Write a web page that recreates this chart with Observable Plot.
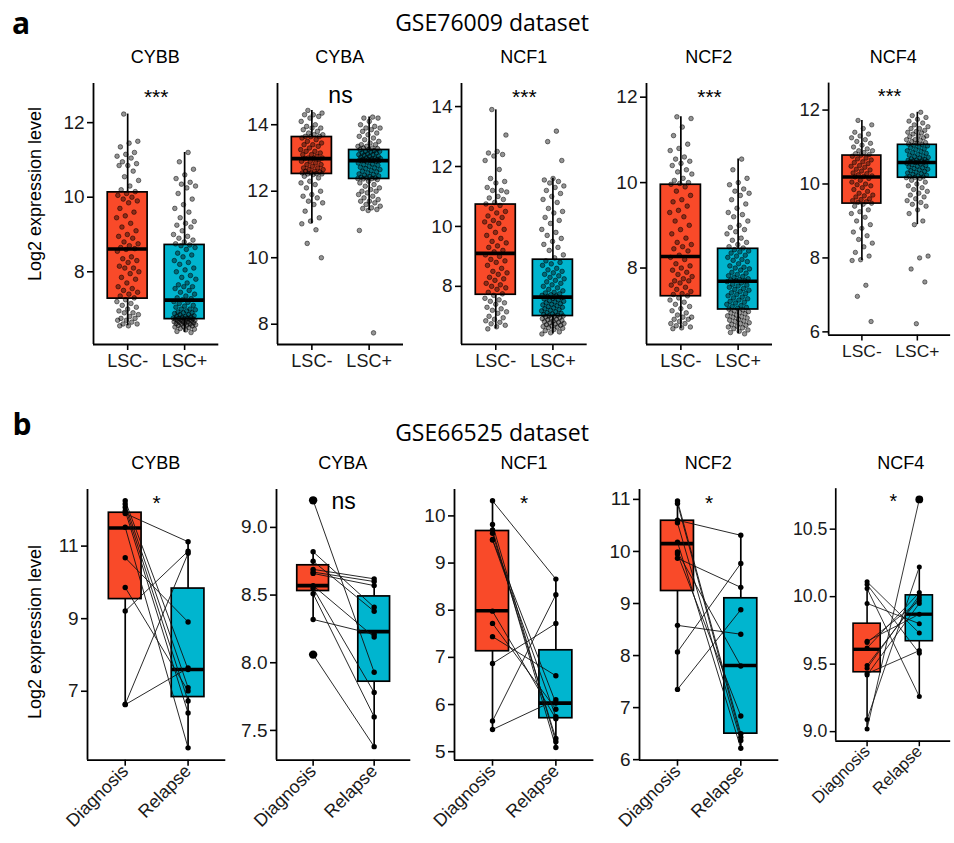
<!DOCTYPE html>
<html><head><meta charset="utf-8">
<script src="https://cdn.jsdelivr.net/npm/d3@7"></script>
<script src="https://cdn.jsdelivr.net/npm/@observablehq/plot@0.6"></script>
<style>
body{margin:0;background:#fff;}
#root{position:relative;width:954px;height:843px;overflow:hidden;font-family:"Liberation Sans",Arial,sans-serif;color:#000;}
.lbl{position:absolute;white-space:nowrap;line-height:1;transform:translate(-50%,-50%);}
.panel{position:absolute;}
</style></head><body><div id="root"></div>
<script>
// ---------------- DATA ----------------
const genes = ["CYBB","CYBA","NCF1","NCF2","NCF4"];
const groupsA = ["LSC-","LSC+"];
const groupsB = ["Diagnosis","Relapse"];
const titleA = "GSE76009 dataset";
const titleB = "GSE66525 dataset";
const sigA = ["***","ns","***","***","***"];
const sigB = ["*","ns","*","*","*"];
const yLabel = "Log2 expression level";

// row a box statistics per gene: [LSC-, LSC+], each [q1, median, q3, whiskerLow, whiskerHigh]
const statsA = [
  [[7.28, 8.61, 10.13, 6.55, 12.23], [6.73, 7.24, 8.72, 6.37, 11.2]],
  [[12.52, 12.98, 13.63, 11.02, 14.43], [12.37, 12.92, 13.24, 11.42, 14.23]],
  [[7.72, 9.1, 10.73, 6.58, 13.89], [7.01, 7.64, 8.89, 6.41, 11.61]],
  [[7.34, 8.27, 9.95, 6.58, 11.54], [7.03, 7.69, 8.45, 6.46, 10.55]],
  [[9.47, 10.19, 10.77, 7.93, 11.72], [10.17, 10.58, 11.06, 8.9, 11.94]]
];
const domainsA = [[6.05,13.05],[7.39,15.24],[6.06,14.77],[6.21,12.32],[5.91,12.73]];
const ticksA = [[8,10,12],[8,10,12,14],[8,10,12,14],[8,10,12],[6,8,10,12]];

// row a sample values
const cybbNeg = [12.23,11.5,11.45,11.35,11.2,11.15,11.1,11.05,10.95,10.9,10.85,10.85,10.7,10.55,10.45,10.3,10.2,10.15,10.1,10.05,
  10.0,9.95,9.9,9.85,9.7,9.6,9.5,9.45,9.3,9.2,9.1,9.0,8.95,8.9,8.8,8.75,8.7,8.65,8.62,8.6,
  8.55,8.4,8.35,8.3,8.25,8.15,8.1,8.1,8.0,7.95,7.85,7.8,7.7,7.6,7.55,7.5,7.45,7.4,7.35,7.3,
  7.25,7.2,7.15,7.1,7.05,7.0,6.95,6.9,6.9,6.85,6.8,6.75,6.75,6.7,6.7,6.65,6.6,6.6,6.55,6.55];
const cybbPos = [11.2,10.95,10.75,10.6,10.5,10.4,10.35,10.3,10.25,10.1,9.95,9.8,9.7,9.6,9.45,9.35,9.3,9.25,9.2,9.1,9.0,8.95,8.9,8.85,8.8,8.75,8.72,
  8.7,8.65,8.6,8.5,8.45,8.4,8.3,8.25,8.2,8.1,8.05,8.0,7.9,7.85,7.8,7.7,7.65,7.6,7.6,7.55,7.5,7.45,7.4,7.35,7.3,7.28,7.25,
  7.2,7.18,7.15,7.1,7.08,7.05,7.0,7.0,6.98,6.95,6.92,6.9,6.9,6.88,6.85,6.85,6.82,6.8,6.8,6.78,6.77,6.76,6.75,6.75,6.74,6.74,6.73,
  6.72,6.71,6.7,6.7,6.69,6.68,6.67,6.66,6.65,6.64,6.63,6.62,6.61,6.6,6.6,6.58,6.57,6.56,6.55,6.53,6.52,6.5,6.48,6.46,6.44,6.4,6.37];
const cybaNeg = [14.43,14.35,14.3,14.3,14.25,14.2,14.1,14.0,13.95,13.9,13.9,13.85,13.8,13.75,13.7,13.7,13.65,13.65,13.64,
  13.6,13.55,13.5,13.45,13.4,13.4,13.35,13.3,13.25,13.2,13.2,13.15,13.1,13.1,13.05,13.0,13.0,12.99,12.98,
  12.95,12.9,12.9,12.85,12.8,12.8,12.75,12.7,12.7,12.65,12.65,12.6,12.6,12.58,12.55,12.55,12.53,12.52,12.52,
  12.5,12.45,12.4,12.3,12.25,12.2,12.1,12.0,11.9,11.85,11.8,11.7,11.65,11.6,11.4,11.2,11.1,11.02,10.84,10.43,10.0];
const cybaPos = [14.23,14.2,14.2,14.1,14.0,13.95,13.9,13.9,13.85,13.8,13.75,13.7,13.65,13.6,13.55,13.5,13.45,13.4,13.4,13.35,13.35,13.3,13.3,13.28,13.26,13.25,
  13.22,13.2,13.2,13.18,13.15,13.15,13.12,13.1,13.1,13.08,13.05,13.05,13.02,13.0,13.0,12.98,12.97,12.96,12.95,12.95,12.94,12.93,12.93,12.92,12.92,12.92,
  12.9,12.88,12.85,12.82,12.8,12.78,12.75,12.72,12.7,12.68,12.65,12.62,12.6,12.58,12.55,12.52,12.5,12.48,12.46,12.44,12.42,12.4,12.4,12.38,12.38,12.37,
  12.35,12.3,12.25,12.2,12.15,12.1,12.05,12.0,12.0,11.95,11.9,11.85,11.8,11.75,11.7,11.7,11.65,11.6,11.55,11.5,11.48,11.45,11.42,10.82,7.74];
const ncf1Neg = [13.9,13.05,12.5,12.45,12.4,12.35,12.2,11.9,11.6,11.5,11.45,11.3,11.2,11.2,11.15,11.0,10.95,10.9,10.8,10.75,
  10.7,10.6,10.5,10.45,10.35,10.3,10.2,10.15,10.1,10.0,9.9,9.8,9.7,9.6,9.5,9.45,9.35,9.3,9.2,9.15,
  9.05,9.0,8.9,8.85,8.8,8.7,8.6,8.5,8.45,8.4,8.3,8.25,8.2,8.1,8.05,8.0,7.95,7.9,7.8,7.75,
  7.7,7.6,7.55,7.5,7.45,7.4,7.3,7.25,7.2,7.15,7.1,7.0,6.95,6.9,6.85,6.8,6.75,6.7,6.65,6.58];
const ncf1Pos = [13.18,12.83,12.2,11.6,11.55,11.5,11.45,11.35,11.3,11.2,11.1,11.0,10.9,10.8,10.6,10.5,10.45,10.3,10.2,10.1,9.9,9.8,9.7,9.6,9.5,9.4,9.3,9.2,9.05,8.95,
  8.85,8.8,8.75,8.7,8.6,8.55,8.5,8.45,8.4,8.35,8.3,8.25,8.2,8.15,8.1,8.05,8.0,7.95,7.9,7.85,7.8,7.78,7.75,7.72,7.7,7.68,7.65,
  7.62,7.6,7.58,7.55,7.52,7.5,7.48,7.45,7.42,7.4,7.38,7.35,7.32,7.3,7.28,7.25,7.22,7.2,7.18,7.15,7.12,7.1,7.08,7.06,7.04,7.02,7.01,
  7.0,6.98,6.96,6.94,6.92,6.9,6.88,6.86,6.84,6.82,6.8,6.78,6.76,6.74,6.72,6.7,6.68,6.66,6.64,6.62,6.6,6.56,6.52,6.48,6.45,6.41];
const ncf2Neg = [11.54,11.5,11.3,11.1,10.9,10.8,10.75,10.6,10.55,10.5,10.45,10.4,10.3,10.25,10.2,10.1,10.05,10.0,9.98,9.96,
  9.9,9.8,9.7,9.6,9.55,9.45,9.35,9.3,9.2,9.1,9.0,8.9,8.8,8.7,8.6,8.55,8.5,8.45,8.4,8.3,
  8.25,8.2,8.1,8.05,8.0,7.95,7.9,7.85,7.8,7.75,7.7,7.7,7.65,7.6,7.55,7.5,7.45,7.4,7.38,7.35,
  7.3,7.25,7.2,7.15,7.1,7.05,7.0,6.95,6.9,6.85,6.85,6.8,6.8,6.75,6.7,6.7,6.65,6.62,6.6,6.58];
const ncf2Pos = [10.55,10.3,10.1,10.0,9.95,9.85,9.8,9.75,9.7,9.6,9.5,9.4,9.3,9.25,9.2,9.1,9.0,8.95,8.9,8.85,8.8,8.7,8.65,8.6,8.55,8.5,8.47,
  8.43,8.4,8.38,8.35,8.3,8.28,8.25,8.2,8.18,8.15,8.1,8.05,8.02,8.0,7.98,7.95,7.9,7.88,7.85,7.82,7.8,7.78,7.75,7.73,7.72,7.7,7.7,
  7.68,7.65,7.62,7.6,7.58,7.55,7.52,7.5,7.48,7.45,7.42,7.4,7.38,7.35,7.32,7.3,7.28,7.25,7.22,7.2,7.18,7.15,7.12,7.1,7.08,7.06,7.04,
  7.02,7.0,6.98,6.96,6.95,6.93,6.9,6.88,6.86,6.85,6.83,6.8,6.78,6.76,6.75,6.72,6.7,6.68,6.66,6.64,6.62,6.6,6.58,6.55,6.52,6.49,6.46];
const ncf4Neg = [11.72,11.6,11.5,11.4,11.35,11.3,11.25,11.2,11.15,11.1,11.05,11.0,10.95,10.9,10.9,10.85,10.82,10.8,10.78,
  10.75,10.7,10.68,10.65,10.6,10.58,10.55,10.5,10.48,10.45,10.4,10.38,10.35,10.3,10.28,10.25,10.22,10.2,10.19,
  10.15,10.1,10.05,10.0,9.98,9.95,9.9,9.85,9.8,9.75,9.7,9.68,9.65,9.6,9.58,9.55,9.52,9.5,9.48,
  9.45,9.4,9.3,9.25,9.2,9.1,9.0,8.9,8.8,8.7,8.6,8.5,8.4,8.3,8.15,8.05,7.95,7.93,7.26,6.96,6.28];
const ncf4Pos = [11.94,11.85,11.8,11.75,11.7,11.65,11.6,11.55,11.5,11.5,11.45,11.42,11.4,11.38,11.35,11.3,11.3,11.28,11.25,11.2,11.2,11.18,11.15,11.12,11.1,11.08,11.07,
  11.05,11.03,11.0,10.98,10.95,10.93,10.9,10.88,10.85,10.83,10.8,10.78,10.76,10.74,10.72,10.7,10.68,10.66,10.65,10.64,10.63,10.62,10.61,10.6,10.6,10.59,10.58,
  10.56,10.54,10.52,10.5,10.48,10.46,10.44,10.42,10.4,10.38,10.36,10.34,10.32,10.3,10.28,10.26,10.24,10.22,10.2,10.19,10.18,10.17,
  10.15,10.1,10.05,10.0,9.95,9.9,9.85,9.8,9.75,9.7,9.65,9.6,9.55,9.5,9.45,9.4,9.3,9.2,9.0,8.9,8.05,8.0,7.7,7.35,6.22];
const valuesA = [[cybbNeg,cybbPos],[cybaNeg,cybaPos],[ncf1Neg,ncf1Pos],[ncf2Neg,ncf2Pos],[ncf4Neg,ncf4Pos]];

// row b: paired samples (same index = same patient)
const cybbDiag = [12.25,12.16,12.07,11.97,11.90,11.52,10.68,9.86,9.21,6.64,6.63];
const cybbRel  = [7.60,7.10,6.73,6.40,11.12,5.44,8.91,7.01,10.86,10.80,7.64];
const cybaDiag = [9.20,8.82,8.75,8.69,8.67,8.66,8.57,8.55,8.51,8.32,8.06];
const cybaRel  = [7.93,8.41,8.38,8.62,8.60,8.57,8.19,7.78,7.60,8.21,7.38];
const ncf1Diag = [10.32,9.82,9.70,9.63,9.50,9.49,7.98,7.72,7.44,6.87,5.65,5.47];
const ncf1Rel  = [8.66,5.21,5.09,5.28,6.03,5.74,5.70,5.90,6.61,7.72,8.33,6.10];
const ncf2Diag = [10.97,10.92,10.60,10.55,10.18,9.99,9.95,9.87,8.58,8.07,7.35];
const ncf2Rel  = [6.50,6.43,10.31,6.37,6.22,7.80,6.84,9.31,8.41,9.77,8.88];
const ncf4Diag = [10.11,10.09,10.06,9.95,9.67,9.66,9.62,9.49,9.47,9.43,9.42,9.09,9.02];
const ncf4Rel  = [9.73,9.58,9.26,9.80,9.87,9.97,10.03,9.99,10.01,9.60,9.95,10.22,10.72];
const valuesB = [[cybbDiag,cybbRel],[cybaDiag,cybaRel],[ncf1Diag,ncf1Rel],[ncf2Diag,ncf2Rel],[ncf4Diag,ncf4Rel]];
const statsB = [
  [[9.54, 11.5, 11.92, 6.63, 12.25], [6.84, 7.6, 9.83, 5.44, 11.12]],
  [[8.53, 8.57, 8.72, 8.32, 8.82], [7.86, 8.23, 8.49, 7.38, 8.62]],
  [[7.13, 7.99, 9.68, 5.47, 10.32], [5.71, 6.03, 7.15, 5.09, 8.66]],
  [[9.24, 10.15, 10.59, 7.35, 10.97], [6.50, 7.81, 9.10, 6.22, 10.31]],
  [[9.44, 9.61, 9.80, 9.02, 10.11], [9.67, 9.87, 10.01, 9.26, 10.22]]
];
const domainsB = [[5.1,12.56],[7.28,9.28],[4.82,10.56],[5.99,11.19],[8.93,10.80]];
const ticksB = [[7,9,11],[7.5,8.0,8.5,9.0],[5,6,7,8,9,10],[6,7,8,9,10,11],[9.0,9.5,10.0,10.5]];
const tickDecimalsB = [0,1,0,0,1];

// ---------------- LAYOUT / STYLE ----------------
const colors = ["#F94A29","#00B5CF"];
const FONT = "Liberation Sans, Arial, sans-serif";
const root = document.getElementById("root");
const layoutA = {axisX:[92.7,276.7,461,645.7,830], axisEnd:[218,402.7,586.7,771.7,956.3], top:83, bottom:344, boxHalf:0.35};
const layoutB = {axisX:[86.7,275.7,454.3,638.7,839.1], axisEnd:[225,410,593.7,778,962.3], top:489.3, bottom:760, boxHalf:0.26};

function addLabel(text, x, y, style) {
  const d = document.createElement("div");
  d.className = "lbl";
  d.textContent = text;
  d.style.left = x + "px"; d.style.top = y + "px";
  Object.assign(d.style, style || {});
  root.appendChild(d);
  return d;
}

function jitter(i) { return (((i * 0.6180339887) % 1) - 0.5) * 0.4; }

function makePanel(row, k) {
  const L = row === "a" ? layoutA : layoutB;
  const stats = row === "a" ? statsA[k] : statsB[k];
  const domain = row === "a" ? domainsA[k] : domainsB[k];
  const ticks = row === "a" ? ticksA[k] : ticksB[k];
  const groups = row === "a" ? groupsA : groupsB;
  const sig = row === "a" ? sigA[k] : sigB[k];
  const dec = row === "a" ? 0 : tickDecimalsB[k];
  const mL = 55, mR = 4, mT = 12, mB = row === "a" ? 40 : 95;
  const w = L.axisEnd[k] - L.axisX[k];
  const h = L.bottom - L.top;
  const boxes = stats.map((s, g) => ({x: g + 1, q1: s[0], med: s[1], q3: s[2], lo: s[3], hi: s[4], fill: colors[g]}));
  const bw = L.boxHalf;
  const marks = [
    Plot.ruleX(boxes, {x: "x", y1: "lo", y2: "hi", stroke: "black", strokeWidth: 1.7}),
    Plot.rect(boxes, {x1: d => d.x - bw, x2: d => d.x + bw, y1: "q1", y2: "q3", fill: "fill", stroke: "black", strokeWidth: 1.7}),
    Plot.ruleY(boxes, {y: "med", x1: d => d.x - bw, x2: d => d.x + bw, stroke: "black", strokeWidth: 3.6})
  ];
  if (row === "a") {
    const pts = [];
    valuesA[k].forEach((arr, g) => arr.forEach((v, i) => pts.push({g: g + 1, i, v})));
    marks.push(Plot.dot(pts, {x: d => d.g + jitter(d.i + 7 * d.g), y: "v", r: 2.3, fill: "black", fillOpacity: 0.42, stroke: "black", strokeOpacity: 0.7, strokeWidth: 0.7}));
  } else {
    const [dv, rv] = valuesB[k];
    const pairs = dv.map((v, i) => ({d: v, r: rv[i]}));
    marks.push(Plot.link(pairs, {x1: () => 1, x2: () => 2, y1: "d", y2: "r", stroke: "#111", strokeWidth: 1, strokeOpacity: 0.9}));
    const pts = [];
    valuesB[k].forEach((arr, g) => arr.forEach(v => pts.push({g: g + 1, v, out: v > stats[g][4] + 1e-9 || v < stats[g][3] - 1e-9})));
    marks.push(Plot.dot(pts.filter(p => !p.out), {x: "g", y: "v", r: 2.7, fill: "black"}));
    marks.push(Plot.dot(pts.filter(p => p.out), {x: "g", y: "v", r: 4.2, fill: "black"}));
  }
  marks.push(
    Plot.ruleX([domain[0]], {x: () => 0.4, stroke: "black", strokeWidth: 1.8}),
    Plot.ruleY([domain[0]], {stroke: "black", strokeWidth: 1.8}),
    Plot.axisY(ticks, {anchor: "left", tickSize: 6, tickPadding: 3, fontSize: 19, tickFormat: d => d.toFixed(dec), fill: "#1a1a1a", stroke: "black", strokeWidth: 1.6, label: null}),
    Plot.axisX([1, 2], {anchor: "bottom", tickSize: 6, tickPadding: row === "a" ? 4 : 2, fontSize: 18, tickFormat: i => groups[i - 1], tickRotate: row === "a" ? 0 : -45, fill: "#1a1a1a", stroke: "black", strokeWidth: 1.6, label: null}),
    Plot.text([sig], {x: () => 1.5, frameAnchor: "top", lineAnchor: "top", dy: sig === "ns" ? 3 : 6, fontSize: sig === "ns" ? 23 : 21, fill: "black"})
  );
  const svg = Plot.plot({
    width: mL + w + mR, height: mT + h + mB,
    marginLeft: mL, marginRight: mR, marginTop: mT, marginBottom: mB,
    x: {domain: [0.4, 2.6], axis: null},
    y: {domain, axis: null},
    color: {type: "identity"},
    style: {fontFamily: FONT, background: "transparent", overflow: "visible", color: "black"},
    marks
  });
  const wrap = document.createElement("div");
  wrap.className = "panel";
  wrap.style.left = (L.axisX[k] - mL) + "px";
  wrap.style.top = (L.top - mT) + "px";
  wrap.appendChild(svg);
  root.appendChild(wrap);
  addLabel(genes[k], (L.axisX[k] + L.axisEnd[k]) / 2, row === "a" ? 57 : 463, {fontSize: "18px", fontFamily: FONT});
}

for (let k = 0; k < 5; k++) { makePanel("a", k); makePanel("b", k); }

addLabel("a", 21, 23, {fontSize: "30px", fontWeight: "bold", fontFamily: "Open Sans, sans-serif"});
addLabel("b", 22, 424, {fontSize: "30px", fontWeight: "bold", fontFamily: "Open Sans, sans-serif"});
addLabel(titleA, 492, 22, {fontSize: "23px", fontFamily: "Open Sans, sans-serif"});
addLabel(titleB, 492, 432, {fontSize: "23px", fontFamily: "Open Sans, sans-serif"});
addLabel(yLabel, 35, 194, {fontSize: "18px", fontFamily: FONT, transform: "translate(-50%,-50%) rotate(-90deg)"});
addLabel(yLabel, 35, 632, {fontSize: "18px", fontFamily: FONT, transform: "translate(-50%,-50%) rotate(-90deg)"});
</script></body></html>
